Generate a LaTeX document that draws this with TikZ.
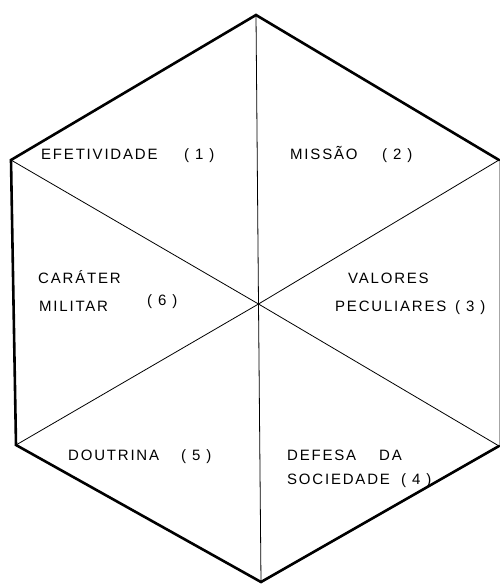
\documentclass[tikz,border=0pt]{standalone}
\usepackage{fontspec}
\newfontfamily\labfont[LetterSpace=12]{Liberation Sans}
\begin{document}
\begin{tikzpicture}[x=1pt,y=-1pt,
  outer/.style={line width=2.6pt,line join=miter,line cap=round},
  faint/.style={line width=0.8pt,black!35},
  spoke/.style={line width=0.8pt},
  lab/.style={anchor=base west,inner sep=0pt,font=\labfont\fontsize{15}{24}\selectfont}]
\useasboundingbox (0,0) rectangle (500,584);
\coordinate (T) at (256,15);
\coordinate (UR) at (499,160);
\coordinate (LR) at (499,446);
\coordinate (B) at (261,582);
\coordinate (LL) at (16,445);
\coordinate (UL) at (11,160);
\coordinate (C) at (258.5,304);
\draw[spoke] (T) -- (C) -- (B);
\draw[spoke] (UL) -- (C) -- (LR);
\draw[spoke] (UR) -- (C) -- (LL);
\draw[faint] (UR) -- (LR);
\draw[outer] (UR) -- (T) -- (UL) -- (LL) -- (B) -- (LR);
\node[lab] (n1) at (41,159) {EFETIVIDADE};
\node[lab] (n1b) at (184,159) {( 1 )};
\node[lab] (n2) at (290,159) {MISSÃO};
\node[lab] (n2b) at (382,159) {( 2 )};
\node[lab] (n6a) at (38,283) {CARÁTER};
\node[lab] (n6b) at (39,311) {MILITAR};
\node[lab] (n6c) at (147,305) {( 6 )};
\node[lab] (n3a) at (348,283) {VALORES};
\node[lab] (n3b) at (335,311) {PECULIARES};
\node[lab] (n3c) at (455,311) {( 3 )};
\node[lab] (n5) at (68,460) {DOUTRINA};
\node[lab] (n5b) at (181,460) {( 5 )};
\node[lab] (n4a) at (287,460) {DEFESA};
\node[lab] (n4c) at (379,460) {DA};
\node[lab] (n4b) at (287,484) {SOCIEDADE};
\node[lab] (n4d) at (401,484) {( 4 )};
\end{tikzpicture}
\end{document}
